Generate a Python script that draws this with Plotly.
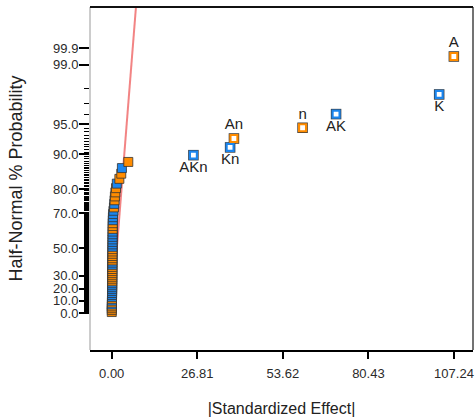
import plotly.graph_objects as go
from statistics import NormalDist

# ---------------- data ----------------
# small (unlabelled) effects, in rank order
cluster_effect = [0.02, 0.03, 0.04, 0.05, 0.06, 0.07, 0.08, 0.09, 0.10, 0.11,
                  0.12, 0.13, 0.13, 0.14, 0.15, 0.15, 0.16, 0.17, 0.17, 0.18,
                  0.19, 0.19, 0.20, 0.20, 0.21, 0.22, 0.22, 0.23, 0.23, 0.24,
                  0.25, 0.25, 0.26, 0.26, 0.27, 0.28, 0.28, 0.29, 0.30, 0.31,
                  0.32, 0.33, 0.35, 0.38, 0.45, 0.55, 0.70, 0.80, 0.90, 1.00,
                  1.15, 1.35, 1.60, 2.40, 3.00, 3.20, 5.20]
cluster_prob = [0.78, 2.34, 3.91, 5.47, 7.03, 8.59, 10.16, 11.72, 13.28, 14.84,
                16.41, 17.97, 19.53, 21.09, 22.66, 24.22, 25.78, 27.34, 28.91, 30.47,
                32.03, 33.59, 35.16, 36.72, 38.28, 39.84, 41.41, 42.97, 44.53, 46.09,
                47.66, 49.22, 50.78, 52.34, 53.91, 55.47, 57.03, 58.59, 60.16, 61.72,
                63.28, 64.84, 66.41, 67.97, 69.53, 71.09, 72.66, 74.22, 75.78, 77.34,
                78.91, 80.47, 82.03, 83.59, 85.16, 86.72, 88.28]
cluster_sign = ["+", "+", "+", "+", "-", "+", "-", "+", "-", "-",
                "-", "-", "-", "-", "-", "-", "+", "+", "+", "+",
                "+", "+", "+", "+", "-", "-", "+", "+", "+", "+",
                "+", "+", "-", "-", "-", "-", "-", "-", "-", "+",
                "+", "+", "-", "-", "-", "-", "+", "-", "+", "+",
                "+", "+", "-", "+", "+", "-", "+"]

# labelled (selected) effects
named_terms = ["AKn", "Kn", "An", "n", "AK", "K", "A"]
named_effect = [25.6, 37.1, 38.3, 59.8, 70.3, 102.6, 107.2]
named_prob = [89.84, 91.41, 92.97, 94.53, 96.09, 97.66, 99.22]
named_sign = ["-", "-", "+", "+", "-", "-", "+"]
named_label_pos = ["bottom center", "bottom center", "top center", "top center",
                   "bottom center", "bottom center", "top center"]

# axis ticks
x_tick_vals = [0.00, 26.81, 53.62, 80.43, 107.24]
x_tick_text = ["0.00", "26.81", "53.62", "80.43", "107.24"]
y_tick_probs = [0, 10, 20, 30, 50, 70, 80, 90, 95, 99, 99.4]
y_tick_text = ["0.0", "10.0", "20.0", "30.0", "50.0", "70.0", "80.0", "90.0",
               "95.0", "99.0", "99.9"]
y_minor_probs = [p / 2 for p in range(1, 190)] + [96, 97, 98]

# reference line: |effect| = slope * z
line_slope = 2.395

# ---------------- helpers ----------------
ND = NormalDist()


def hn(p):
    """half-normal probability (%) -> z"""
    return ND.inv_cdf(0.5 + p / 200.0)


ORANGE = "#FF8C00"
BLUE = "#1C86EE"
col = {"+": ORANGE, "-": BLUE}
FAM = "Liberation Sans, Arial"

fig = go.Figure()

# reference line
z_top = 3.2
fig.add_trace(go.Scatter(
    x=[0, line_slope * z_top], y=[0, z_top], mode="lines",
    line=dict(color="rgba(240,110,110,0.85)", width=2),
    hoverinfo="skip", showlegend=False))

# unlabelled effects
fig.add_trace(go.Scatter(
    x=cluster_effect, y=[hn(p) for p in cluster_prob], mode="markers",
    marker=dict(symbol="square", size=9,
                color=[col[s] for s in cluster_sign],
                line=dict(color="#333333", width=0.8)),
    showlegend=False))

# labelled effects: dark rim then hollow coloured square
fig.add_trace(go.Scatter(
    x=named_effect, y=[hn(p) for p in named_prob], mode="markers",
    marker=dict(symbol="square", size=10.5, color="#3a3a3a"),
    hoverinfo="skip", showlegend=False))
fig.add_trace(go.Scatter(
    x=named_effect, y=[hn(p) for p in named_prob], mode="markers+text",
    text=named_terms, textposition=named_label_pos,
    textfont=dict(family=FAM, size=15, color="#222222"),
    marker=dict(symbol="square", size=7, color="white",
                line=dict(color=[col[s] for s in named_sign], width=2.2)),
    cliponaxis=False, showlegend=False))

font = dict(family=FAM, size=13, color="#2a2a2a")

fig.update_layout(
    width=476, height=420,
    margin=dict(l=90, r=3, t=7, b=70, autoexpand=False),
    paper_bgcolor="white", plot_bgcolor="white",
    font=font,
    xaxis=dict(
        range=[-6.80, 113.2], tickmode="array",
        tickvals=x_tick_vals, ticktext=x_tick_text,
        showgrid=False, zeroline=False, automargin=False,
        showline=True, linecolor="black", linewidth=2,
        ticks="outside", ticklen=7, tickwidth=2, tickcolor="black",
        tickfont=font, ticklabelstandoff=3,
        title=dict(text="|Standardized Effect|",
                   font=dict(family=FAM, size=16, color="#222222"),
                   standoff=23),
    ),
    yaxis=dict(
        range=[-0.384, 3.174], tickmode="array",
        tickvals=[hn(p) for p in y_tick_probs], ticktext=y_tick_text,
        showgrid=False, zeroline=False, showline=False, automargin=False,
        ticks="outside", ticklen=10, tickwidth=2, tickcolor="black",
        tickfont=font, ticklabelstandoff=-2,
        minor=dict(tickmode="array", tickvals=[hn(p) for p in y_minor_probs],
                   ticks="outside", ticklen=5, tickwidth=1, tickcolor="black",
                   showgrid=False),
        title=dict(text="Half-Normal % Probability",
                   font=dict(family=FAM, size=18, color="#222222"),
                   standoff=25),
    ),
    shapes=[
        dict(type="line", xref="paper", yref="paper", x0=0, x1=0, y0=0, y1=1,
             line=dict(color="#9a9a9a", width=1)),
        dict(type="line", xref="paper", yref="paper", x0=1, x1=1, y0=0, y1=1,
             line=dict(color="#444444", width=1.5)),
        dict(type="line", xref="paper", yref="paper", x0=0, x1=1, y0=1, y1=1,
             line=dict(color="#111111", width=2)),
    ],
)

fig.write_html(
    "out.html",
    config={"displayModeBar": False},
    post_script="document.body.style.margin='0';document.body.style.overflow='hidden';",
)
